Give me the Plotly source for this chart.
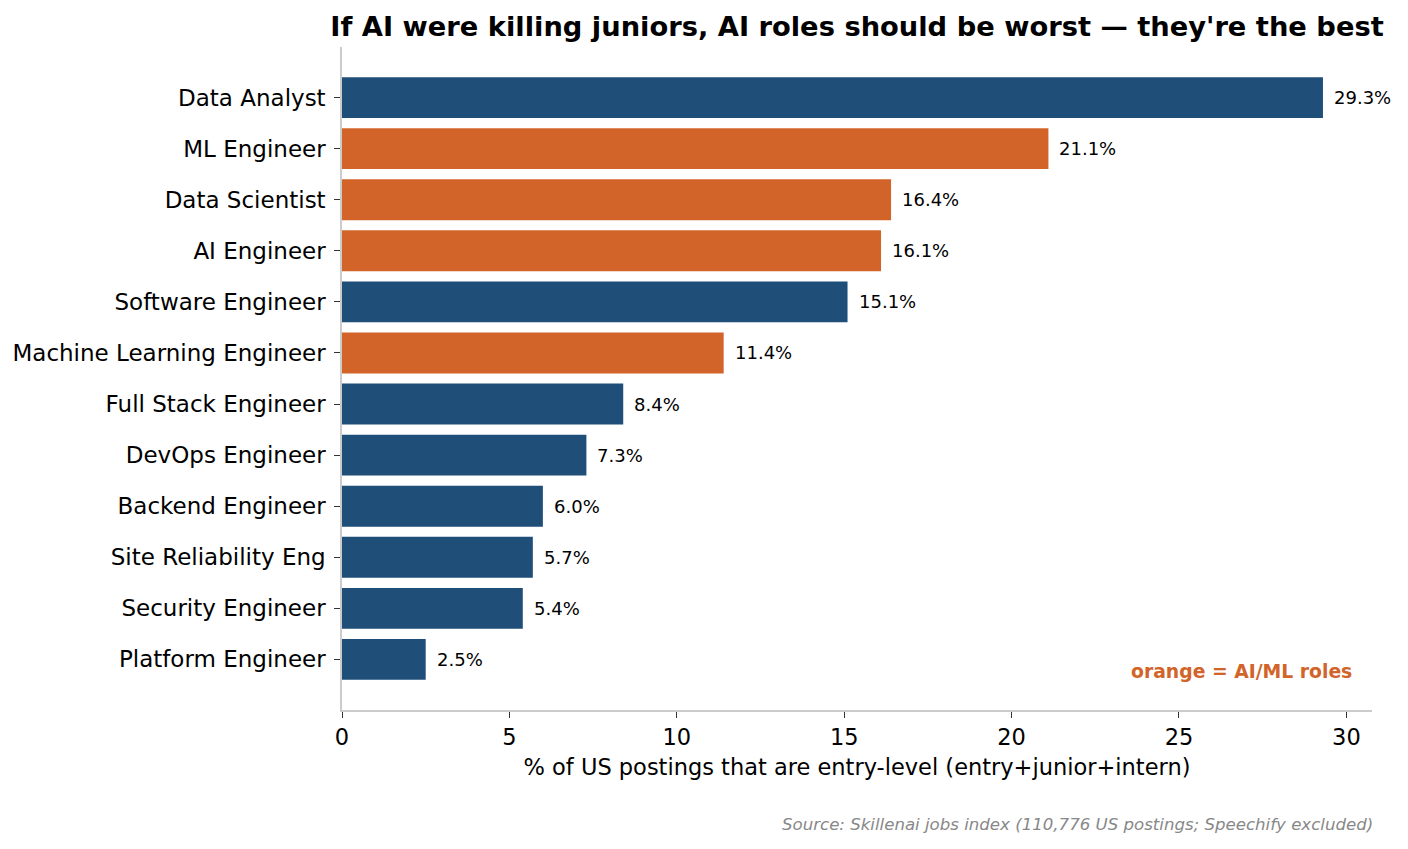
import plotly.graph_objects as go

roles = ['Data Analyst', 'ML Engineer', 'Data Scientist', 'AI Engineer',
         'Software Engineer', 'Machine Learning Engineer', 'Full Stack Engineer',
         'DevOps Engineer', 'Backend Engineer', 'Site Reliability Eng',
         'Security Engineer', 'Platform Engineer']
entry_pct = [29.3, 21.1, 16.4, 16.1, 15.1, 11.4, 8.4, 7.3, 6.0, 5.7, 5.4, 2.5]
is_ai = [False, True, True, True, False, True, False, False, False, False, False, False]

BLUE = '#1f4e79'
ORANGE = '#d2642a'
FONT = 'DejaVu Sans'

colors = [ORANGE if a else BLUE for a in is_ai]
ypos = list(range(len(roles)))

fig = go.Figure()
fig.add_trace(go.Bar(x=entry_pct, y=ypos, orientation='h', width=0.8,
                     marker=dict(color=colors, line=dict(width=0)),
                     hoverinfo='x+text', text=roles, textposition='none'))

# подписи значений справа от столбцов
for v, y in zip(entry_pct, ypos):
    fig.add_annotation(x=v, y=y, text=f'{v:.1f}%', showarrow=False,
                       xanchor='left', xshift=9, font=dict(size=18, color='black'))

fig.add_annotation(x=0.983, y=0.058, xref='paper', yref='paper', text='<b>orange = AI/ML roles</b>',
                   showarrow=False, xanchor='right', yanchor='middle',
                   font=dict(size=18.8, color=ORANGE))
fig.add_annotation(x=1.0, y=-0.172, xref='paper', yref='paper', xshift=3,
                   text='<i>Source: Skillenai jobs index (110,776 US postings; Speechify excluded)</i>',
                   showarrow=False, xanchor='right', yanchor='middle',
                   font=dict(size=16.6, color='#888888'))

fig.update_layout(
    width=1408, height=849,
    paper_bgcolor='white', plot_bgcolor='white',
    margin=dict(l=334, r=44, t=39, b=147),
    font=dict(family=FONT, color='black'),
    title=dict(text='<b>If AI were killing juniors, AI roles should be worst — they\'re the best</b>',
               x=0.5, xref='paper', xanchor='center', y=0.978, yanchor='middle',
               font=dict(size=27.3, color='black')),
    showlegend=False,
    bargap=0.2,
)
fig.update_xaxes(range=[0, 30.765], tickvals=[0, 5, 10, 15, 20, 25, 30], automargin=False,
                 showgrid=False, zeroline=False, showline=True, linecolor='#cccccc', linewidth=1.5,
                 ticks='outside', ticklen=6, tickcolor='#333333', tickfont=dict(size=22.5),
                 title=dict(text='% of US postings that are entry-level (entry+junior+intern)',
                            font=dict(size=22.5), standoff=10))
fig.update_yaxes(range=[11.99, -0.99], tickvals=ypos, ticktext=roles, automargin=False,
                 showgrid=False, zeroline=False, showline=True, linecolor='#cccccc', linewidth=1.5,
                 ticks='outside', ticklen=6, tickcolor='#333333', tickfont=dict(size=23),
                 ticklabelstandoff=4)

fig.write_html('out.html')
